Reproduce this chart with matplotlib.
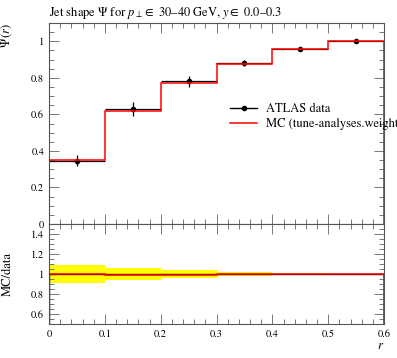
import numpy as np
import matplotlib
matplotlib.use("Agg")
import matplotlib.pyplot as plt
from matplotlib.ticker import MultipleLocator
from matplotlib.lines import Line2D

plt.rcParams['font.family'] = ['STIXGeneral', 'DejaVu Serif']
plt.rcParams['mathtext.fontset'] = 'stix'

bin_edges = [0.0, 0.1, 0.2, 0.3, 0.4, 0.5, 0.6]
data_vals = [0.347, 0.630, 0.782, 0.880, 0.955, 1.000]
data_errs = [0.030, 0.040, 0.030, 0.015, 0.006, 0.001]
mc_vals = [0.348, 0.621, 0.774, 0.876, 0.955, 1.000]

edges = np.array(bin_edges)
dv = np.array(data_vals)
de = np.array(data_errs)
mv = np.array(mc_vals)
centers = 0.5 * (edges[:-1] + edges[1:])
halfw = 0.5 * np.diff(edges)

W, H = 397, 358
fig = plt.figure(figsize=(W / 100, H / 100), dpi=100)
L, R = 49 / W, 384 / W
ax = fig.add_axes([L, 1 - 224 / H, R - L, (224 - 23) / H])
rx = fig.add_axes([L, 1 - 324 / H, R - L, (324 - 224) / H])

frame_col = '#555555'
for a in (ax, rx):
    for s in a.spines.values():
        s.set_color(frame_col)
        s.set_linewidth(0.8)
    a.tick_params(which='both', direction='in', top=True, right=True,
                  color='#777777', labelsize=7.5, width=0.7)
    a.tick_params(which='major', length=7)
    a.tick_params(which='minor', length=3.5)
    a.set_xlim(0, 0.6)
    a.xaxis.set_major_locator(MultipleLocator(0.1))
    a.xaxis.set_minor_locator(MultipleLocator(0.02))

# main panel
ax.stairs(mv, edges, color='red', lw=1.1, zorder=3)
ax.errorbar(centers, dv, yerr=de, xerr=halfw, fmt='o', color='black', ms=3,
            elinewidth=0.9, capsize=0, zorder=2)
ax.set_ylim(0, 1.1)
ax.set_yticks([0, 0.2, 0.4, 0.6, 0.8, 1.0])
ax.set_yticklabels(['0', '0.2', '0.4', '0.6', '0.8', '1'])
ax.yaxis.set_minor_locator(MultipleLocator(0.05))
ax.tick_params(labelbottom=False)
ax.set_ylabel(r'$\Psi\,(r)$', loc='top', fontsize=9)
ax.set_title(r'Jet shape $\Psi$ for $p_\perp \in$ 30–40 GeV, $y \in$ 0.0–0.3',
             loc='left', fontsize=9, pad=5)
handles = [Line2D([], [], color='black', marker='o', ms=3, lw=1.0),
           Line2D([], [], color='red', lw=1.1)]
ax.legend(handles, ['ATLAS data', 'MC (tune-analyses.weight'], loc='upper left',
          bbox_to_anchor=(0.525, 0.625), frameon=False, fontsize=9,
          handlelength=2.2, handletextpad=0.7, labelspacing=0.25, borderaxespad=0)

# ratio panel
rel = de / dv
rx.stairs(1 + rel, edges, baseline=1 - rel, fill=True, color='#ffff00', lw=0, zorder=1)
rx.stairs(np.ones_like(dv), edges, color='black', lw=1.0, zorder=2)
rx.stairs(mv / dv, edges, color='red', lw=1.1, zorder=3)
rx.set_ylim(0.5, 1.5)
rx.set_yticks([0.6, 0.8, 1.0, 1.2, 1.4])
rx.set_yticklabels(['0.6', '0.8', '1', '1.2', '1.4'])
rx.yaxis.set_minor_locator(MultipleLocator(0.05))
rx.set_xticks([0, 0.1, 0.2, 0.3, 0.4, 0.5, 0.6])
rx.set_xticklabels(['0', '0.1', '0.2', '0.3', '0.4', '0.5', '0.6'])
rx.set_ylabel('MC/data', fontsize=9)
rx.set_xlabel(r'$r$', loc='right', fontsize=9, labelpad=1)

ax.yaxis.set_label_coords(-0.105, 1.0)
rx.yaxis.set_label_coords(-0.105, 0.5)

fig.savefig('out.png', dpi=100)
